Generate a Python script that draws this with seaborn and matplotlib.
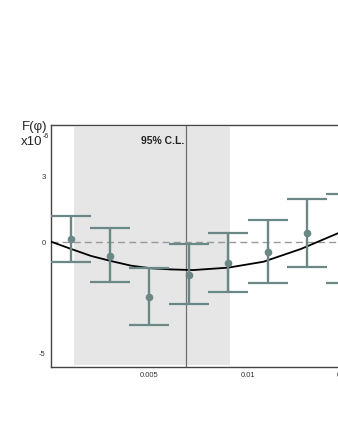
import numpy as np
import pandas as pd
import matplotlib
matplotlib.use("Agg")
import matplotlib.pyplot as plt
import seaborn as sns

# Measured points (x in units, F in 1e-6)
x_pts = [0.001, 0.003, 0.005, 0.007, 0.009, 0.011, 0.013, 0.015]
f_pts = [0.17, -0.59, -2.45, -1.45, -0.91, -0.41, 0.45, 0.20]
err_up = [1.06, 1.27, 1.31, 1.40, 1.36, 1.46, 1.55, 2.03]
err_down = [1.03, 1.18, 1.28, 1.32, 1.32, 1.41, 1.54, 2.02]

# Fit curve
curve_x = [0.0, 0.00102, 0.00204, 0.00305, 0.00407, 0.00509, 0.0061, 0.00722,
           0.0090, 0.0108, 0.0127, 0.0146, 0.0160]
curve_f = [0.06, -0.27, -0.59, -0.82, -1.03, -1.15, -1.20, -1.23,
           -1.12, -0.85, -0.27, 0.45, 1.05]

cl_low, cl_high = 0.00117, 0.0091
best_x = 0.00688
ref_level = 0.06

sns.set_style("white")
plt.rcParams['font.family'] = ['Liberation Sans', 'DejaVu Sans']

fig = plt.figure(figsize=(3.38, 4.37), dpi=100)
ax = fig.add_axes([51 / 338, 70.5 / 437, 334.6 / 338, 241.5 / 437])

ax.axvspan(cl_low, cl_high, ymin=0.006, ymax=0.992, color='#e6e6e6', lw=0, zorder=0)
ax.axvline(best_x, color='#707070', lw=0.9, zorder=1)
ax.axhline(ref_level, color='#999999', lw=1.0, ls=(0, (5, 3)), zorder=1)

curve = pd.DataFrame({'x': curve_x, 'F': curve_f})
sns.lineplot(data=curve, x='x', y='F', ax=ax, color='black', lw=1.3, zorder=3)

ax.errorbar(x_pts, f_pts, yerr=[err_down, err_up], fmt='o', color='#6b8886',
            ms=4.5, elinewidth=1.7, capsize=14.4, capthick=1.6, zorder=4)

ax.text(0.0068, 4.65, '95% C.L.', ha='right', va='center', fontsize=7.5,
        fontweight='bold', color='#222222')

ax.set_xlim(0, 0.017)
ax.set_ylim(-5.61, 5.36)
ax.set_xticks([0.005, 0.01, 0.015])
ax.set_xticklabels(['0.005', '0.01', '0.015'])
ax.set_yticks([3, 0, -5])
ax.set_yticklabels(['3', '0', '-5'])
ax.tick_params(direction='in', length=2.5, width=0.8, labelsize=5.5,
               colors='#444444', labelcolor='#333333', pad=4)
ax.set_xlabel('')
ax.set_ylabel('')
for s in ['left', 'bottom', 'top']:
    ax.spines[s].set_color('#444444')
    ax.spines[s].set_linewidth(1.0)
ax.spines['right'].set_visible(False)

fig.text(47.5 / 338, 1 - 127 / 437, 'F(φ)', ha='right', va='center', fontsize=9.5)
fig.text(42.5 / 338, 1 - 142 / 437, 'x10', ha='right', va='center', fontsize=9.5)
fig.text(42.5 / 338, 1 - 137 / 437, '-6', ha='left', va='center', fontsize=5)

fig.savefig('out.png', dpi=100)
